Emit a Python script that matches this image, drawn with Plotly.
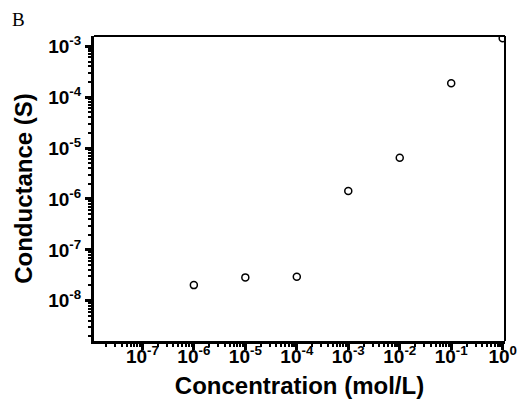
import plotly.graph_objects as go

concentration = [1e-6, 1e-5, 1e-4, 1e-3, 1e-2, 1e-1, 1.0]
conductance = [2.03e-8, 2.88e-8, 2.96e-8, 1.43e-6, 6.44e-6, 1.87e-4, 1.43e-3]

x_tick_exps = [-7, -6, -5, -4, -3, -2, -1, 0]
y_tick_exps = [-8, -7, -6, -5, -4, -3]

x_tickvals = [10.0 ** e for e in x_tick_exps]
x_ticktext = [f"10<sup>{e}</sup>" for e in x_tick_exps]
y_tickvals = [10.0 ** e for e in y_tick_exps]
y_ticktext = [f"10<sup>{e}</sup>" for e in y_tick_exps]

x_minor = [m * 10.0 ** e for e in range(-8, 1) for m in range(2, 10)]
y_minor = [m * 10.0 ** e for e in range(-9, -2) for m in range(2, 10)]

fig = go.Figure()
fig.add_trace(go.Scatter(
    x=concentration, y=conductance, mode="markers",
    marker=dict(symbol="circle-open", size=7, color="black", line=dict(width=1.5, color="black")),
    showlegend=False,
))

font_family = "Liberation Sans, Arial, sans-serif"

fig.update_layout(
    width=523, height=412,
    margin=dict(l=94, r=18, t=36, b=71),
    paper_bgcolor="white", plot_bgcolor="white",
    font=dict(family=font_family, color="black"),
    xaxis=dict(
        type="log", range=[-7.94, 0.045], automargin=False,
        tickmode="array", tickvals=x_tickvals, ticktext=x_ticktext,
        ticks="outside", ticklen=6, tickwidth=2.5, tickcolor="black",
        minor=dict(tickmode="array", tickvals=x_minor, ticks="outside", ticklen=3, tickwidth=1.5, tickcolor="black"),
        showline=True, linewidth=3, linecolor="black", mirror=False,
        showgrid=False, zeroline=False,
        ticklabelstandoff=-10,
        tickfont=dict(size=19, weight="bold", family=font_family),
        title=dict(text="Concentration (mol/L)", font=dict(size=24, weight="bold", family=font_family), standoff=12),
    ),
    yaxis=dict(
        type="log", range=[-8.79, -2.80], automargin=False,
        tickmode="array", tickvals=y_tickvals, ticktext=y_ticktext,
        ticks="outside", ticklen=6, tickwidth=2.5, tickcolor="black",
        minor=dict(tickmode="array", tickvals=y_minor, ticks="outside", ticklen=3, tickwidth=1.5, tickcolor="black"),
        showline=True, linewidth=3, linecolor="black", mirror=False,
        showgrid=False, zeroline=False,
        tickfont=dict(size=19, weight="bold", family=font_family),
        title=dict(text="Conductance (S)", font=dict(size=24, weight="bold", family=font_family), standoff=9),
    ),
    shapes=[
        dict(type="line", xref="paper", yref="paper", x0=0, x1=1, y0=1, y1=1, line=dict(color="black", width=2)),
        dict(type="line", xref="paper", yref="paper", x0=1, x1=1, y0=0, y1=1, line=dict(color="black", width=2)),
    ],
    annotations=[
        dict(text="B", xref="paper", yref="paper", x=-0.204, y=1.095, xanchor="left", yanchor="top",
             showarrow=False, font=dict(family="Liberation Serif, Times New Roman, serif", size=19, color="black")),
    ],
)

fig.write_html("out.html", config={"displayModeBar": False},
               post_script="document.body.style.margin='0';document.body.style.padding='0';")
